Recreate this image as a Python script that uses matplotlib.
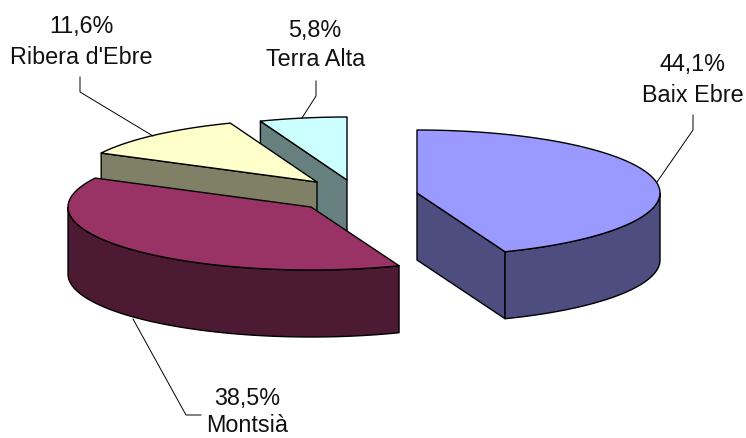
'''
exploded 3D pie of share per comarca
'''
import numpy as np
import matplotlib as mpl
mpl.use('Agg')
import matplotlib.pyplot as plt
mpl.rcParams['font.family'] = ['Liberation Sans', 'DejaVu Sans']

comarca = ['Baix Ebre', 'Montsià', "Ribera d'Ebre", 'Terra Alta']
share = [44.1, 38.5, 11.6, 5.8]
share_label = ['44,1%', '38,5%', '11,6%', '5,8%']
top_color = ['#9999FF', '#993366', '#FFFFCC', '#CCFFFF']
side_color = ['#4D4D80', '#4D1A33', '#808066', '#668080']

# -- geometry in pixels --
a, b, depth = 243., 63., 67.
centers = [(417, 193), (311, 207), (317, 182), (347, 180)]
share_pos = [(692, 65), (247, 399), (81, 26), (315, 30)]
name_pos = [(693, 96), (247, 426), (81, 57), (316, 60)]
leaders = [
    [(693, 115), (693, 130), (657, 182)],
    [(133, 319), (186, 415), (201, 415)],
    [(80, 77), (80, 92), (153, 136)],
    [(316, 81), (316, 96), (302, 118)],
]


def rim(cen, t):
    ''' point on the top ellipse, t clockwise from 12 o'clock '''
    return cen[0] + a*np.sin(t), cen[1] - b*np.cos(t)


fig = plt.figure(figsize=(7.46, 4.38), dpi=100)
sub = fig.add_axes([0, 0, 1, 1])
sub.set_xlim([0, 746])
sub.set_ylim([438, 0])
sub.axis('off')

kw = {'edgecolor': 'k', 'linewidth': 1.0, 'joinstyle': 'round'}
edges = np.cumsum([0.] + share)/np.sum(share)*2.*np.pi

# painter's order, back slices first
for i in [3, 2, 1, 0]:
    cen = centers[i]
    t = np.linspace(edges[i], edges[i+1], 200)
    x, y = rim(cen, t)
    # cut faces: only the ones turned to the viewer
    if np.sin(t[0]) < -1e-6:
        sub.fill([cen[0], x[0], x[0], cen[0]], [cen[1], y[0], y[0]+depth, cen[1]+depth],
                 facecolor=side_color[i], **kw)
    if np.sin(t[-1]) > 1e-6:
        sub.fill([cen[0], x[-1], x[-1], cen[0]], [cen[1], y[-1], y[-1]+depth, cen[1]+depth],
                 facecolor=side_color[i], **kw)
    # curved wall, only the front half shows
    front = np.cos(t) <= 0
    if front.any():
        xf, yf = x[front], y[front]
        sub.fill(np.r_[xf, xf[::-1]], np.r_[yf, yf[::-1]+depth],
                 facecolor=side_color[i], **kw)
    sub.fill(np.r_[cen[0], x], np.r_[cen[1], y], facecolor=top_color[i], **kw)

for line in leaders:
    xy = np.array(line)
    sub.plot(xy[:, 0], xy[:, 1], c='k', lw=0.7)

for i in range(4):
    sub.text(share_pos[i][0], share_pos[i][1], share_label[i],
             ha='center', va='center', fontsize=16.8, color='#111111')
    sub.text(name_pos[i][0], name_pos[i][1], comarca[i],
             ha='center', va='center', fontsize=16.8, color='#111111')

fig.savefig('out.png', dpi=100)
plt.close()
